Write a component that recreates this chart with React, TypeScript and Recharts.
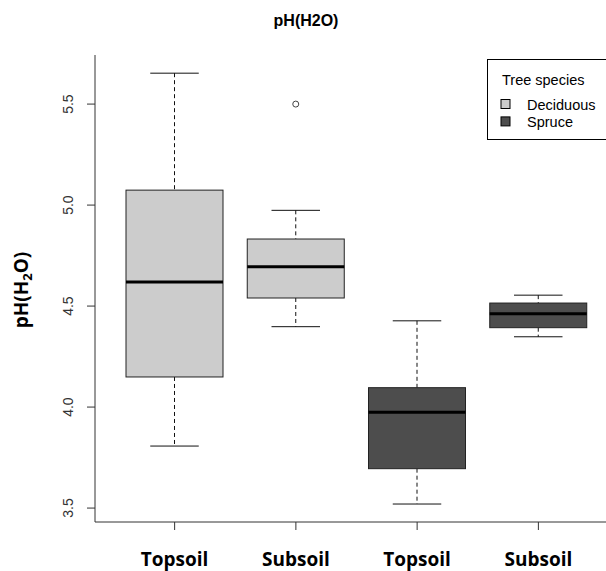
import React from 'react';
import { ComposedChart, Bar, XAxis, YAxis, Legend } from 'recharts';

// ---- data ----
const categories = ['Topsoil', 'Subsoil', 'Topsoil', 'Subsoil'];
const groupSpecies = ['Deciduous', 'Deciduous', 'Spruce', 'Spruce'];
const whiskerLow = [3.807, 4.398, 3.52, 4.348];
const quartile1 = [4.149, 4.54, 3.695, 4.393];
const medians = [4.619, 4.695, 3.974, 4.462];
const quartile3 = [5.074, 4.832, 4.096, 4.515];
const whiskerHigh = [5.653, 4.974, 4.427, 4.554];
const outliers: number[][] = [[], [5.5], [], []];
const yTicks = [3.5, 4.0, 4.5, 5.0, 5.5];
const yDomain = [3.431, 5.743];
const legendTitle = 'Tree species';
const legendLabels = ['Deciduous', 'Spruce'];
const chartTitle = 'pH(H2O)';

const speciesFill: Record<string, string> = { Deciduous: '#cccccc', Spruce: '#4d4d4d' };

const data = categories.map((c, i) => ({
  key: `g${i}`,
  label: c,
  species: groupSpecies[i],
  range: [whiskerLow[i], whiskerHigh[i]],
  lo: whiskerLow[i],
  q1: quartile1[i],
  med: medians[i],
  q3: quartile3[i],
  hi: whiskerHigh[i],
  out: outliers[i],
}));

const BoxShape = (props: any) => {
  const { x, width, y, height, payload } = props;
  if (payload == null) return null;
  const top = Math.min(y, y + height);
  const bottom = Math.max(y, y + height);
  const { lo, hi } = payload;
  const toY = (v: number) => top + ((hi - v) / (hi - lo)) * (bottom - top);
  const cx = x + width / 2;
  const capHalf = width / 4;
  const fill = speciesFill[payload.species];
  const yq1 = toY(payload.q1);
  const yq3 = toY(payload.q3);
  const ymed = toY(payload.med);
  return (
    <g>
      <line x1={cx} x2={cx} y1={top} y2={yq3} stroke="#111" strokeWidth={1} strokeDasharray="4 3" />
      <line x1={cx} x2={cx} y1={yq1} y2={bottom} stroke="#111" strokeWidth={1} strokeDasharray="4 3" />
      <line x1={cx - capHalf} x2={cx + capHalf} y1={top} y2={top} stroke="#111" strokeWidth={1} />
      <line x1={cx - capHalf} x2={cx + capHalf} y1={bottom} y2={bottom} stroke="#111" strokeWidth={1} />
      <rect x={x} y={yq3} width={width} height={yq1 - yq3} fill={fill} stroke="#222" strokeWidth={1} />
      <line x1={x} x2={x + width} y1={ymed} y2={ymed} stroke="#000" strokeWidth={3} />
      {payload.out.map((v: number, k: number) => (
        <circle key={k} cx={cx} cy={toY(v)} r={3} fill="none" stroke="#444" strokeWidth={1} />
      ))}
    </g>
  );
};

const XTick = (props: any) => {
  const { x, y, payload } = props;
  const d = data.find((r) => r.key === payload.value);
  return (
    <text x={x} y={y} dy={34} textAnchor="middle" fontFamily="'Open Sans'" fontWeight={700} fontSize={19} fill="#000">
      {d ? d.label : ''}
    </text>
  );
};

const YTick = (props: any) => {
  const { x, y, payload } = props;
  const bx = x - 12;
  return (
    <text x={bx} y={y} textAnchor="middle" fontFamily="'Liberation Sans', Arial" fontSize={14} fill="#333" transform={`rotate(-90, ${bx}, ${y})`}>
      {Number(payload.value).toFixed(1)}
    </text>
  );
};

const LegendBox = () => (
  <svg width={130} height={82} style={{ display: 'block' }}>
    <rect x={0.5} y={0.5} width={140} height={80} fill="#fff" stroke="#000" strokeWidth={1} />
    <text x={15} y={25.5} fontFamily="'Liberation Sans', Arial" fontSize={14.5} fill="#000">{legendTitle}</text>
    {legendLabels.map((lab, i) => (
      <g key={lab}>
        <rect x={14} y={40.5 + i * 17.4} width={9} height={9} fill={speciesFill[lab]} stroke="#000" strokeWidth={1} />
        <text x={40} y={51 + i * 16.8} fontFamily="'Liberation Sans', Arial" fontSize={14.5} fill="#000">{lab}</text>
      </g>
    ))}
  </svg>
);

export default function App() {
  return (
    <div style={{ position: 'absolute', left: 0, top: 0, width: 606, height: 571, overflow: 'hidden', background: '#fff' }}>
      <ComposedChart width={630} height={571} data={data} margin={{ top: 55, right: 12, bottom: 0, left: 55 }}>
        <XAxis
          dataKey="key"
          type="category"
          padding={{ left: 19, right: 19 }}
          height={49}
          tick={<XTick />}
          tickSize={8}
          tickLine={{ stroke: '#333' }}
          axisLine={{ stroke: '#333' }}
          interval={0}
        />
        <XAxis
          xAxisId="top"
          orientation="top"
          dataKey="key"
          type="category"
          height={0}
          tick={false}
          tickLine={false}
          axisLine={{ stroke: '#555' }}
        />
        <YAxis
          type="number"
          domain={yDomain}
          ticks={yTicks}
          allowDataOverflow
          width={40}
          tickSize={8}
          tick={<YTick />}
          tickLine={{ stroke: '#333' }}
          axisLine={{ stroke: '#333' }}
        />
        <Bar dataKey="range" barSize={97} shape={<BoxShape />} isAnimationActive={false} />
        <Legend
          layout="vertical"
          align="center"
          verticalAlign="middle"
          wrapperStyle={{ left: 487, top: 59, width: 130, height: 82 }}
          content={<LegendBox />}
        />
      </ComposedChart>
      <svg width={606} height={571} style={{ position: 'absolute', left: 0, top: 0, pointerEvents: 'none' }}>
        <text x={306} y={25.5} textAnchor="middle" fontFamily="'Liberation Sans', Arial" fontWeight={700} fontSize={16} fill="#000">
          {chartTitle}
        </text>
        <text x={28} y={290} textAnchor="middle" fontFamily="'Open Sans'" fontWeight={700} fontSize={19} fill="#000" transform="rotate(-90, 28, 290)">
          pH(H<tspan fontSize={13} dy={4}>2</tspan><tspan dy={-4}>O)</tspan>
        </text>
      </svg>
    </div>
  );
}
